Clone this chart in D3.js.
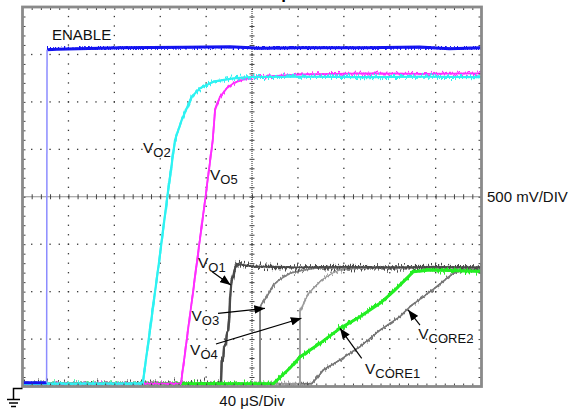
<!DOCTYPE html>
<html><head><meta charset="utf-8">
<script src="https://cdn.jsdelivr.net/npm/d3@7"></script>
<style>
html,body{margin:0;padding:0;background:#fff;}
svg{display:block;font-family:Arial,"Liberation Sans",Helvetica,sans-serif;}
</style></head><body>
<svg id="chart" width="569" height="414"></svg>
<script>
// Horizontal: 40 µs/div over 10 divisions; vertical: 500 mV/div over 8 divisions
const timeTicks = d3.range(0, 401, 40);
const voltTicks = d3.range(0, 4.001, 0.5);

// Captured waveforms: time in µs, level in V
const enableT = [0, 21.0, 21.4, 30, 85, 140, 181, 207, 242, 300, 346, 372, 400];
const enableV = [0.04, 0.04, 3.55, 3.555, 3.57, 3.575, 3.58, 3.565, 3.57, 3.57, 3.578, 3.56, 3.57];

const vo2T = [0, 104.8, 119.2, 126.2, 132.9, 138.7, 147.5, 154.7, 166.3, 183.7, 198.3, 250, 300, 350, 400];
const vo2V = [0.03, 0.03, 1.333, 2.0, 2.598, 2.808, 3.054, 3.143, 3.213, 3.248, 3.262, 3.265, 3.26, 3.265, 3.26];

const vo5T = [0, 138.1, 153.4, 159.5, 165.8, 167.8, 172.1, 178.0, 183.7, 189.5, 198.3, 242, 300, 350, 400];
const vo5V = [0.03, 0.03, 1.439, 2.0, 2.598, 2.913, 3.054, 3.143, 3.195, 3.225, 3.256, 3.29, 3.30, 3.295, 3.30];

const vo1T = [0, 173.0, 173.6, 175.0, 175.6, 177.1, 178.0, 179.3, 180.2, 180.8, 181.7, 182.3, 183.7, 184.6, 186.7, 188.1, 200, 240, 280, 320, 360, 400];
const vo1V = [0.03, 0.03, 0.279, 0.297, 0.419, 0.437, 0.561, 0.595, 0.736, 0.912, 1.052, 1.122, 1.175, 1.228, 1.281, 1.291, 1.265, 1.255, 1.26, 1.255, 1.26, 1.255];

const vo3T = [0, 207.0, 207.0, 207.8, 212.8, 218.6, 224.4, 233.1, 241.8, 254.9, 280, 320, 360, 400];
const vo3V = [0.03, 0.03, 0.824, 0.859, 0.946, 1.070, 1.130, 1.193, 1.220, 1.246, 1.25, 1.255, 1.25, 1.255];

const vo4T = [0, 241.8, 241.8, 243.6, 246.2, 250.5, 256.4, 260.7, 265.1, 270.8, 276.7, 294.1, 330, 370, 400];
const vo4V = [0.03, 0.03, 0.796, 0.838, 0.912, 0.999, 1.070, 1.122, 1.157, 1.199, 1.228, 1.249, 1.25, 1.255, 1.25];

const core1T = [0, 218.6, 224.4, 233.1, 241.8, 259.2, 276.7, 294.1, 311.5, 323.1, 334.8, 340.6, 355.1, 380, 400];
const core1V = [0.03, 0.03, 0.095, 0.195, 0.311, 0.455, 0.613, 0.736, 0.877, 0.999, 1.140, 1.210, 1.228, 1.22, 1.212];

const core2T = [0, 252.0, 256.4, 262.1, 276.7, 294.1, 311.5, 328.9, 337.6, 349.3, 361.0, 369.7, 375.4, 384.1, 400];
const core2V = [0.03, 0.03, 0.086, 0.174, 0.280, 0.419, 0.595, 0.736, 0.841, 0.946, 1.052, 1.140, 1.193, 1.228, 1.228];

// Trace labels and pointer arrows, placed in time/level units
const labels = [
  {main: "ENABLE", sub: "", t: 25.7, v: 3.652},
  {main: "V", sub: "O2", t: 105.0, v: 2.456},
  {main: "V", sub: "O5", t: 163.4, v: 2.176},
  {main: "V", sub: "O1", t: 152.9, v: 1.249},
  {main: "V", sub: "O3", t: 147.3, v: 0.690},
  {main: "V", sub: "O4", t: 146.0, v: 0.327},
  {main: "V", sub: "CORE1", t: 298.5, v: 0.137},
  {main: "V", sub: "CORE2", t: 344.9, v: 0.501}
];
const arrows = [
  {from: [165.3, 1.210], to: [181.4, 1.070]},
  {from: [170.4, 0.771], to: [211.3, 0.824]},
  {from: [168.6, 0.448], to: [243.1, 0.719]},
  {from: [295.6, 0.297], to: [276.7, 0.613]},
  {from: [346.4, 0.648], to: [336.2, 0.806]}
];

const svg = d3.select("#chart");
const plotLeft = 22.5, plotRight = 481.5, plotTop = 7, plotBottom = 386.5;

const x = d3.scaleLinear().domain([0, 400]).range([plotLeft, plotRight]);
const y = d3.scaleLinear().domain([0, 4]).range([plotBottom, plotTop]);

const minorT = d3.range(8, 400, 8);
const minorV = d3.range(1, 40).map(i => i / 10);

const defs = svg.append("defs");
defs.append("clipPath").attr("id", "plot-clip")
  .append("rect").attr("x", plotLeft).attr("y", plotTop)
  .attr("width", plotRight - plotLeft).attr("height", plotBottom - plotTop);

// Vertical-only jitter that gives traces their sampled-noise texture
function noiseFilter(id, scale, seed) {
  const f = defs.append("filter").attr("id", id)
    .attr("x", "-2%").attr("y", "-10%").attr("width", "104%").attr("height", "120%");
  f.append("feTurbulence").attr("type", "fractalNoise")
    .attr("baseFrequency", "0.7 0.06").attr("numOctaves", 1).attr("seed", seed).attr("result", "n");
  f.append("feColorMatrix").attr("in", "n").attr("type", "matrix")
    .attr("values", "0 0 0 0 0.5  0 1 0 0 0  0 0 0 0 0  0 0 0 0 1").attr("result", "m");
  f.append("feDisplacementMap").attr("in", "SourceGraphic").attr("in2", "m")
    .attr("scale", scale).attr("xChannelSelector", "R").attr("yChannelSelector", "G");
}
noiseFilter("noise-lo", 9, 3);
noiseFilter("noise-mid", 12, 5);
noiseFilter("noise-hi", 16, 7);

defs.append("marker").attr("id", "arrowhead")
  .attr("viewBox", "0 0 10 8").attr("refX", 10).attr("refY", 4)
  .attr("markerWidth", 11).attr("markerHeight", 8.5)
  .attr("markerUnits", "userSpaceOnUse").attr("orient", "auto")
  .append("path").attr("d", "M0,0 L10,4 L0,8 Z").attr("fill", "#000");

// Graticule: dotted division lines
const grid = svg.append("g");
timeTicks.filter(t => t > 0 && t < 400 && t !== 200).forEach(t => {
  grid.append("g").selectAll("rect").data(minorV).join("rect")
    .attr("x", x(t) - 0.6).attr("y", d => y(d) - 0.6)
    .attr("width", 1.3).attr("height", 1.3).attr("fill", "#333");
});
voltTicks.filter(v => v > 0 && v < 4 && v !== 2).forEach(v => {
  grid.append("g").selectAll("rect").data(minorT).join("rect")
    .attr("x", d => x(d) - 0.6).attr("y", y(v) - 0.6)
    .attr("width", 1.3).attr("height", 1.3).attr("fill", "#333");
});

// Centre cross-hair with minor-division ticks
grid.append("line").attr("x1", plotLeft).attr("x2", plotRight).attr("y1", y(2)).attr("y2", y(2))
  .attr("stroke", "#222").attr("stroke-dasharray", "1,1");
grid.append("line").attr("x1", x(200)).attr("x2", x(200)).attr("y1", plotTop).attr("y2", plotBottom)
  .attr("stroke", "#222").attr("stroke-dasharray", "1,1");
function styleTicks(g) {
  g.select(".domain").remove();
  g.selectAll(".tick line").attr("stroke", "#444").attr("stroke-width", 1);
}
grid.append("g").attr("transform", `translate(0,${y(2) - 2.5})`)
  .call(d3.axisBottom(x).tickValues(minorT).tickSize(5).tickFormat("")).call(styleTicks);
grid.append("g").attr("transform", `translate(${x(200) - 2.5},0)`)
  .call(d3.axisRight(y).tickValues(minorV).tickSize(5).tickFormat("")).call(styleTicks);

// Traces: a solid core plus a jittered copy for the noise band
const line = d3.line().x(d => x(d[0])).y(d => y(d[1]));
const traces = svg.append("g").attr("clip-path", "url(#plot-clip)");
function tracePts(pts, color, coreWidth, noiseWidth, filter) {
  traces.append("path").datum(pts)
    .attr("d", line).attr("fill", "none")
    .attr("stroke", color).attr("stroke-width", coreWidth)
    .attr("stroke-linejoin", "round");
  traces.append("path").datum(pts)
    .attr("d", line).attr("fill", "none")
    .attr("stroke", color).attr("stroke-width", noiseWidth)
    .attr("stroke-linejoin", "round")
    .attr("filter", `url(#${filter})`);
}
function trace(ts, vs, color, coreWidth, noiseWidth, filter) {
  tracePts(d3.zip(ts, vs), color, coreWidth, noiseWidth, filter);
}
trace(core2T, core2V, "#767676", 1.5, 1.6, "noise-lo");
trace(vo4T, vo4V, "#9a9a9a", 1.3, 1.4, "noise-lo");
trace(vo3T, vo3V, "#808080", 1.5, 1.6, "noise-lo");
trace(vo1T, vo1V, "#4a4a4a", 1.8, 2.4, "noise-hi");
trace(core1T, core1V, "#22ee22", 3.0, 2.4, "noise-mid");
trace(vo5T, vo5V, "#ff2eff", 1.8, 1.8, "noise-lo");
trace(vo2T, vo2V, "#2ef2f2", 2.2, 2.0, "noise-mid");

// Enable: settled levels drawn heavy, the fast edge thin and faint
const enablePts = d3.zip(enableT, enableV);
const edge = enablePts.findIndex((p, i) => i < enablePts.length - 1 && enablePts[i + 1][1] - p[1] > 1);
tracePts(enablePts.slice(0, edge + 1), "#1212f0", 3.0, 2.4, "noise-hi");
tracePts(enablePts.slice(edge + 1), "#1212f0", 3.0, 2.4, "noise-hi");
traces.append("path").datum([enablePts[edge], enablePts[edge + 1]])
  .attr("d", line).attr("fill", "none").attr("stroke", "#8c8cff").attr("stroke-width", 1.5);

// Screen border with minor-division ticks on every edge
const frame = svg.append("g");
frame.append("g").attr("transform", `translate(0,${plotTop})`)
  .call(d3.axisBottom(x).tickValues(minorT).tickSize(3).tickFormat("")).call(styleTicks);
frame.append("g").attr("transform", `translate(0,${plotBottom})`)
  .call(d3.axisTop(x).tickValues(minorT).tickSize(3).tickFormat("")).call(styleTicks);
frame.append("g").attr("transform", `translate(${plotLeft},0)`)
  .call(d3.axisRight(y).tickValues(minorV).tickSize(3).tickFormat("")).call(styleTicks);
frame.append("g").attr("transform", `translate(${plotRight},0)`)
  .call(d3.axisLeft(y).tickValues(minorV).tickSize(3).tickFormat("")).call(styleTicks);
frame.append("rect").attr("x", plotLeft).attr("y", plotTop)
  .attr("width", plotRight - plotLeft).attr("height", plotBottom - plotTop)
  .attr("fill", "none").attr("stroke", "#8a8a8a").attr("stroke-width", 2.8);

// Annotations
const ann = svg.append("g");
arrows.forEach(a => {
  ann.append("line")
    .attr("x1", x(a.from[0])).attr("y1", y(a.from[1]))
    .attr("x2", x(a.to[0])).attr("y2", y(a.to[1]))
    .attr("stroke", "#000").attr("stroke-width", 1.2)
    .attr("marker-end", "url(#arrowhead)");
});
labels.forEach(l => {
  const t = ann.append("text").attr("x", x(l.t)).attr("y", y(l.v))
    .attr("font-size", l.sub ? 15.5 : 15).attr("fill", "#111");
  t.append("tspan").text(l.main);
  if (l.sub) t.append("tspan").attr("font-size", 13).attr("dy", 4).text(l.sub);
});

svg.append("text").attr("x", x(200)).attr("y", -1).attr("text-anchor", "middle")
  .attr("font-size", 17).attr("font-weight", "bold").text("Power-Up");
svg.append("text").attr("x", plotRight + 5.5).attr("y", y(2) + 5)
  .attr("font-size", 15).attr("fill", "#111").text("500 mV/DIV");
svg.append("text").attr("x", x(200)).attr("y", 406).attr("text-anchor", "middle")
  .attr("font-size", 15).attr("fill", "#111").text("40 μS/Div");

// Ground reference marker at the zero-volt level
const gx = plotLeft - 9, gy = y(0) + 2;
const ground = svg.append("g").attr("stroke", "#000").attr("stroke-width", 1.5).attr("fill", "none");
ground.append("path").attr("d", `M${plotLeft},${gy}H${gx}V${gy + 11}`);
[[6.5, 0], [4.5, 3.5], [2.5, 7]].forEach(([hw, dy]) => {
  ground.append("line").attr("x1", gx - hw).attr("x2", gx + hw)
    .attr("y1", gy + 11 + dy).attr("y2", gy + 11 + dy);
});
</script>
</body></html>
